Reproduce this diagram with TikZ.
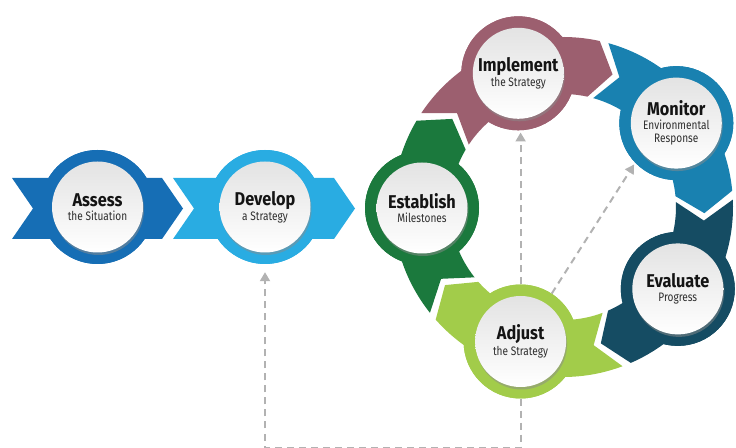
\documentclass[tikz,border=0pt]{standalone}
\usepackage{fontspec}
\setmainfont{Fira Sans}
\newfontfamily\headfont{Fira Sans}[FakeStretch=0.88]
\newfontfamily\subfont{Fira Sans}[FakeStretch=0.82]
\usetikzlibrary{arrows.meta,shadows}

\definecolor{assessblue}{RGB}{22,110,181}
\definecolor{developblue}{RGB}{41,172,226}
\definecolor{establishgreen}{RGB}{27,121,61}
\definecolor{implementrose}{RGB}{156,95,111}
\definecolor{monitorblue}{RGB}{25,129,176}
\definecolor{evaluateteal}{RGB}{21,76,99}
\definecolor{adjustgreen}{RGB}{162,204,74}
\definecolor{flowgray}{RGB}{178,178,178}
\definecolor{labelgray}{RGB}{45,45,45}

\newcommand{\steptitle}{\headfont\bfseries\fontsize{18.5}{17.5}\selectfont\color{black!92}}
\newcommand{\stepsub}{\subfont\mdseries\fontsize{12.3}{17.5}\selectfont\color{labelgray}}

\begin{document}
\begin{tikzpicture}[x=1pt,y=1pt]
\tikzstyle{ring}=[circle, minimum size=114pt, inner sep=0pt]
\tikzstyle{disc}=[circle, minimum size=91pt, inner sep=0pt, align=center, top color=black!11, bottom color=white, drop shadow={shadow xshift=1pt, shadow yshift=-2.5pt, fill=black!45, opacity=0.5}]
\tikzstyle{flow}=[draw=flowgray, line width=2pt, dash pattern=on 7pt off 5pt, -{Triangle[width=10pt,length=9pt]}]

\useasboundingbox (0,0) rectangle (736,447);

% Define stations
\node[ring, fill=assessblue] (assess) at (97.5,240) {};
\node[ring, fill=developblue] (develop) at (265,240) {};
\node[ring, fill=establishgreen] (establish) at (422,239) {};
\node[ring, fill=implementrose] (implement) at (518.3,373.7) {};
\node[ring, fill=monitorblue] (monitor) at (676.3,323.9) {};
\node[ring, fill=evaluateteal] (evaluate) at (677.8,158.1) {};
\node[ring, fill=adjustgreen] (adjust) at (520.6,105.5) {};

% Feedback paths
\coordinate (floorR) at (520.6,-0.8);
\coordinate (floorL) at (265,-0.8);
\draw[flow, shorten >=8pt] (adjust.south) -- (floorR) -- (floorL) -- (develop.south);
\draw[flow, shorten >=2pt] (adjust.north) -- (adjust.north |- implement.south);
\draw[flow, shorten >=2pt] (adjust.57) -- (monitor.224);

% Straight arrows
\fill[assessblue] (12,269) -- (162,269) -- (183,238.5) -- (162,208) -- (12,208) -- (33,238.5) -- cycle;
\fill[developblue] (173,269) -- (334,269) -- (355,238.5) -- (334,208) -- (173,208) -- (194,238.5) -- cycle;

% Cycle arrows
\begin{scope}[shift={(563,240)}]
\foreach \col/\from/\to in {establishgreen/216.5/144.5, implementrose/144.5/72.5, monitorblue/72.5/0.5, evaluateteal/0.5/-71.5, adjustgreen/-71.5/-143.5}
  \fill[\col] (\from+2:170) arc[start angle=\from+2, end angle=\to+5, radius=170] -- (\to-3:141.5) -- (\to+5:113) arc[start angle=\to+5, end angle=\from+2, radius=113] -- (\from-6:141.5) -- cycle;
\end{scope}

% Rings again over the bands
\node[ring, fill=assessblue] at (assess) {};
\node[ring, fill=developblue] at (develop) {};
\node[ring, fill=establishgreen] at (establish) {};
\node[ring, fill=implementrose] at (implement) {};
\node[ring, fill=monitorblue] at (monitor) {};
\node[ring, fill=evaluateteal] at (evaluate) {};
\node[ring, fill=adjustgreen] at (adjust) {};

% Labels
\node[disc] (assesstext) at (assess) {\steptitle Assess\\[1.5pt]\stepsub the Situation};
\node[disc] (developtext) at (develop) {\steptitle Develop\\[1.5pt]\stepsub a Strategy};
\node[disc] (establishtext) at (establish) {\steptitle Establish\\[1.5pt]\stepsub Milestones};
\node[disc] (implementtext) at (implement) {\steptitle Implement\\[1.5pt]\stepsub the Strategy};
\node[disc] (monitortext) at (monitor) {\steptitle Monitor\\[1.5pt]\stepsub Environmental\\[1.5pt]\stepsub Response};
\node[disc] (evaluatetext) at (evaluate) {\steptitle Evaluate\\[1.5pt]\stepsub Progress};
\node[disc] (adjusttext) at (adjust) {\steptitle Adjust\\[1.5pt]\stepsub the Strategy};
\end{tikzpicture}
\end{document}
